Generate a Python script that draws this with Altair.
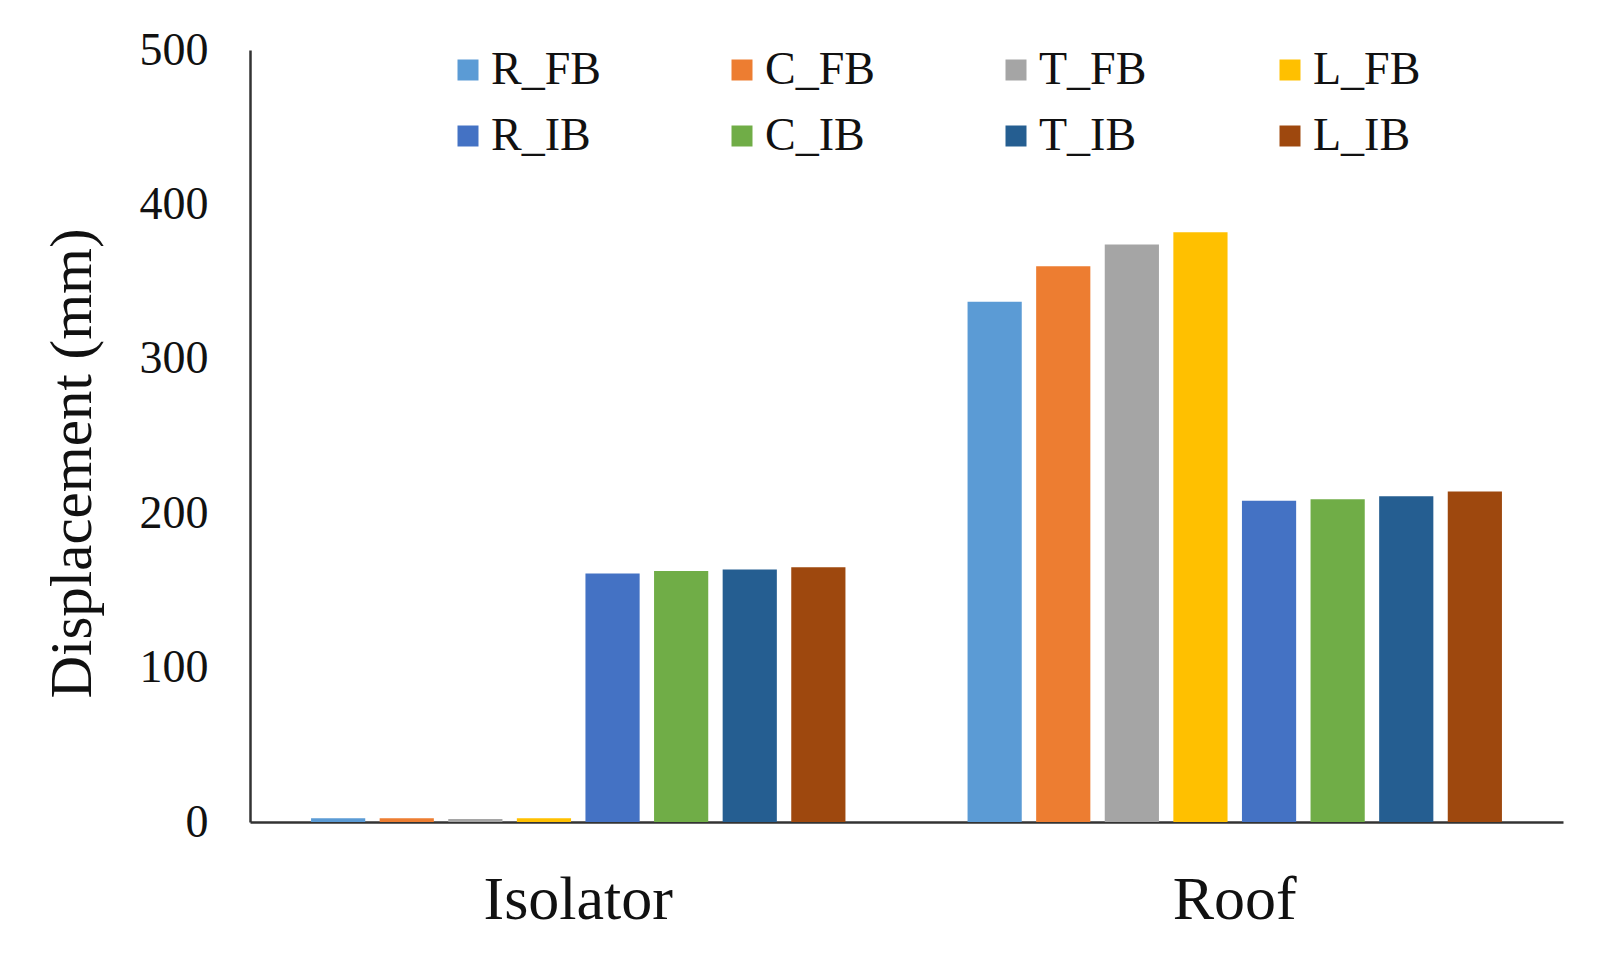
import altair as alt
import pandas as pd

categories = ["Isolator", "Roof"]
series = ["R_FB", "C_FB", "T_FB", "L_FB", "R_IB", "C_IB", "T_IB", "L_IB"]
colors = ["#5B9BD5", "#ED7D31", "#A5A5A5", "#FFC000",
          "#4472C4", "#70AD47", "#255E91", "#9E480E"]
isolator_vals = [2.5, 2.5, 2.0, 2.5, 161, 162.5, 163.5, 165]
roof_vals = [337, 360, 374, 382, 208, 209, 211, 214]

rows = []
for s, a, b in zip(series, isolator_vals, roof_vals):
    rows.append({"Location": "Isolator", "Case": s, "Displacement": a})
    rows.append({"Location": "Roof", "Case": s, "Displacement": b})
df = pd.DataFrame(rows)

# legend fills column by column with 2 rows: interleave FB / IB
legend_order = [s for pair in zip(series[:4], series[4:]) for s in pair]
legend_colors = [colors[series.index(s)] for s in legend_order]

FONT = "Liberation Serif"

chart = alt.Chart(df).mark_bar().encode(
    x=alt.X("Location:N", sort=categories,
            scale=alt.Scale(paddingInner=0, paddingOuter=0),
            axis=alt.Axis(title=None, labelAngle=0, ticks=False, tickSize=0,
                          labelPadding=47, labelFontSize=62, labelFont=FONT,
                          labelLimit=600,
                          labelColor="#111", domainColor="#333", domainWidth=2.5,
                          grid=False)),
    xOffset=alt.XOffset("Case:N", sort=series,
                        scale=alt.Scale(paddingInner=0.21, paddingOuter=0.89)),
    y=alt.Y("Displacement:Q",
            scale=alt.Scale(domain=[0, 500], nice=False),
            axis=alt.Axis(title="Displacement (mm)", values=[0, 100, 200, 300, 400, 500],
                          ticks=False, tickSize=0, labelPadding=42,
                          labelFontSize=46, labelFont=FONT, labelColor="#111",
                          titleFont=FONT, titleFontSize=59, titleFontWeight="normal",
                          titleColor="#111", titleX=-160, titleY=413,
                          titleBaseline="alphabetic", titleAlign="center",
                          domainColor="#333", domainWidth=2.5, grid=False)),
    color=alt.Color("Case:N",
                    scale=alt.Scale(domain=legend_order, range=legend_colors),
                    legend=alt.Legend(title=None, orient="none", legendX=195, legendY=-3,
                                      columns=4, gridAlign="all", columnPadding=118,
                                      rowPadding=20, symbolType="square", symbolSize=441,
                                      symbolStrokeWidth=0, labelFont=FONT,
                                      labelFontSize=46, labelColor="#111",
                                      labelOffset=0, padding=0, labelLimit=300)),
).properties(
    width=1313,
    height=772,
    padding={"left": 242, "top": 42, "right": 30, "bottom": 120},
    autosize=alt.AutoSizeParams(type="none"),
    background="white",
).configure_view(strokeWidth=0, stroke="transparent")

chart.save("out.html", embed_options={"renderer": "svg", "actions": False})
